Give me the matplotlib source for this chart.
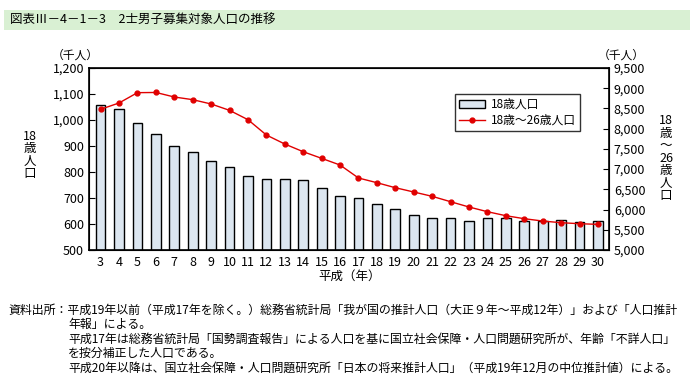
import matplotlib
matplotlib.use("Agg")
import matplotlib.pyplot as plt
from matplotlib.patches import Rectangle
from matplotlib.ticker import FuncFormatter, MultipleLocator

plt.rcParams['font.family'] = ['Noto Sans CJK JP', 'DejaVu Sans']

years = [str(y) for y in range(3, 31)]
pop18 = [1057, 1041, 987, 946, 899, 877, 842, 819, 785, 773, 773, 769, 738, 706,
         700, 677, 658, 635, 623, 623, 611, 623, 625, 611, 611, 615, 608, 611]
pop18_26 = [8479, 8635, 8890, 8895, 8783, 8717, 8610, 8453, 8222, 7843, 7620, 7430,
            7266, 7101, 6780, 6664, 6540, 6434, 6327, 6194, 6063, 5947, 5848, 5774,
            5716, 5675, 5650, 5634]

title = "図表Ⅲ－4－1－3　2士男子募集対象人口の推移"
notes = [
    "資料出所：平成19年以前（平成17年を除く。）総務省統計局「我が国の推計人口（大正９年～平成12年）」および「人口推計",
    "年報」による。",
    "平成17年は総務省統計局「国勢調査報告」による人口を基に国立社会保障・人口問題研究所が、年齢「不詳人口」",
    "を按分補正した人口である。",
    "平成20年以降は、国立社会保障・人口問題研究所「日本の将来推計人口」（平成19年12月の中位推計値）による。",
]

fig = plt.figure(figsize=(7, 3.82), dpi=100)
fig.patches.append(Rectangle((4/700, 1-30/382), 686/700, 20/382, transform=fig.transFigure,
                             facecolor='#d9f0d3', edgecolor='none'))
fig.text(10/700, 1-20/382, title, fontsize=9, va='center', ha='left')

ax = fig.add_axes([89/700, 1-250/382, 520/700, 182/382])
x = list(range(len(years)))
bars = ax.bar(x, pop18, width=0.53, color='#dce6f0', edgecolor='black', linewidth=1, label='18歳人口', zorder=2)
ax.set_ylim(500, 1200)
ax.set_xlim(-0.63, len(years) - 0.4)
ax.yaxis.set_major_locator(MultipleLocator(100))
fmt = FuncFormatter(lambda v, p: f"{int(v):,}")
ax.yaxis.set_major_formatter(fmt)
ax.set_xticks(x)
ax.set_xticklabels(years)
ax.tick_params(axis='x', length=0, labelsize=9, pad=4)
ax.tick_params(axis='y', direction='in', length=4, labelsize=9)
for s in ax.spines.values():
    s.set_linewidth(1.2)

ax2 = ax.twinx()
line, = ax2.plot(x, pop18_26, color='#e00000', marker='o', markersize=3.5, linewidth=1, label='18歳～26歳人口', zorder=3)
ax2.set_ylim(5000, 9500)
ax2.yaxis.set_major_locator(MultipleLocator(500))
ax2.yaxis.set_major_formatter(fmt)
ax2.tick_params(axis='y', direction='in', length=4, labelsize=9)

leg = fig.legend([bars, line], ['18歳人口', '18歳～26歳人口'], loc='upper left',
                 bbox_to_anchor=(449/700, 1-88/382), fontsize=8.5, frameon=True, fancybox=False,
                 edgecolor='black', borderpad=0.35, labelspacing=0.25, handlelength=2.2, handletextpad=0.5)
leg.get_frame().set_linewidth(1)

fig.text(75/700, 1-55/382, "（千人）", fontsize=8.5, ha='center', va='center')
fig.text(598/700, 1-55/382, "（千人）", fontsize=8.5, ha='left', va='center')
fig.text(30/700, 1-155/382, "18\n歳\n人\n口", fontsize=9, ha='center', va='center', linespacing=0.95)
fig.text(666/700, 1-158/382, "18\n歳\n～\n26\n歳\n人\n口", fontsize=9, ha='center', va='center', linespacing=0.95)
fig.text(350/700, 1-276/382, "平成（年）", fontsize=9, ha='center', va='center')

ys = [310, 324, 339, 353, 368]
xs = [8, 68, 68, 68, 68]
for t, yy, xx in zip(notes, ys, xs):
    fig.text(xx/700, 1-yy/382, t, fontsize=8.6, ha='left', va='center')

fig.savefig("out.png", dpi=100)
